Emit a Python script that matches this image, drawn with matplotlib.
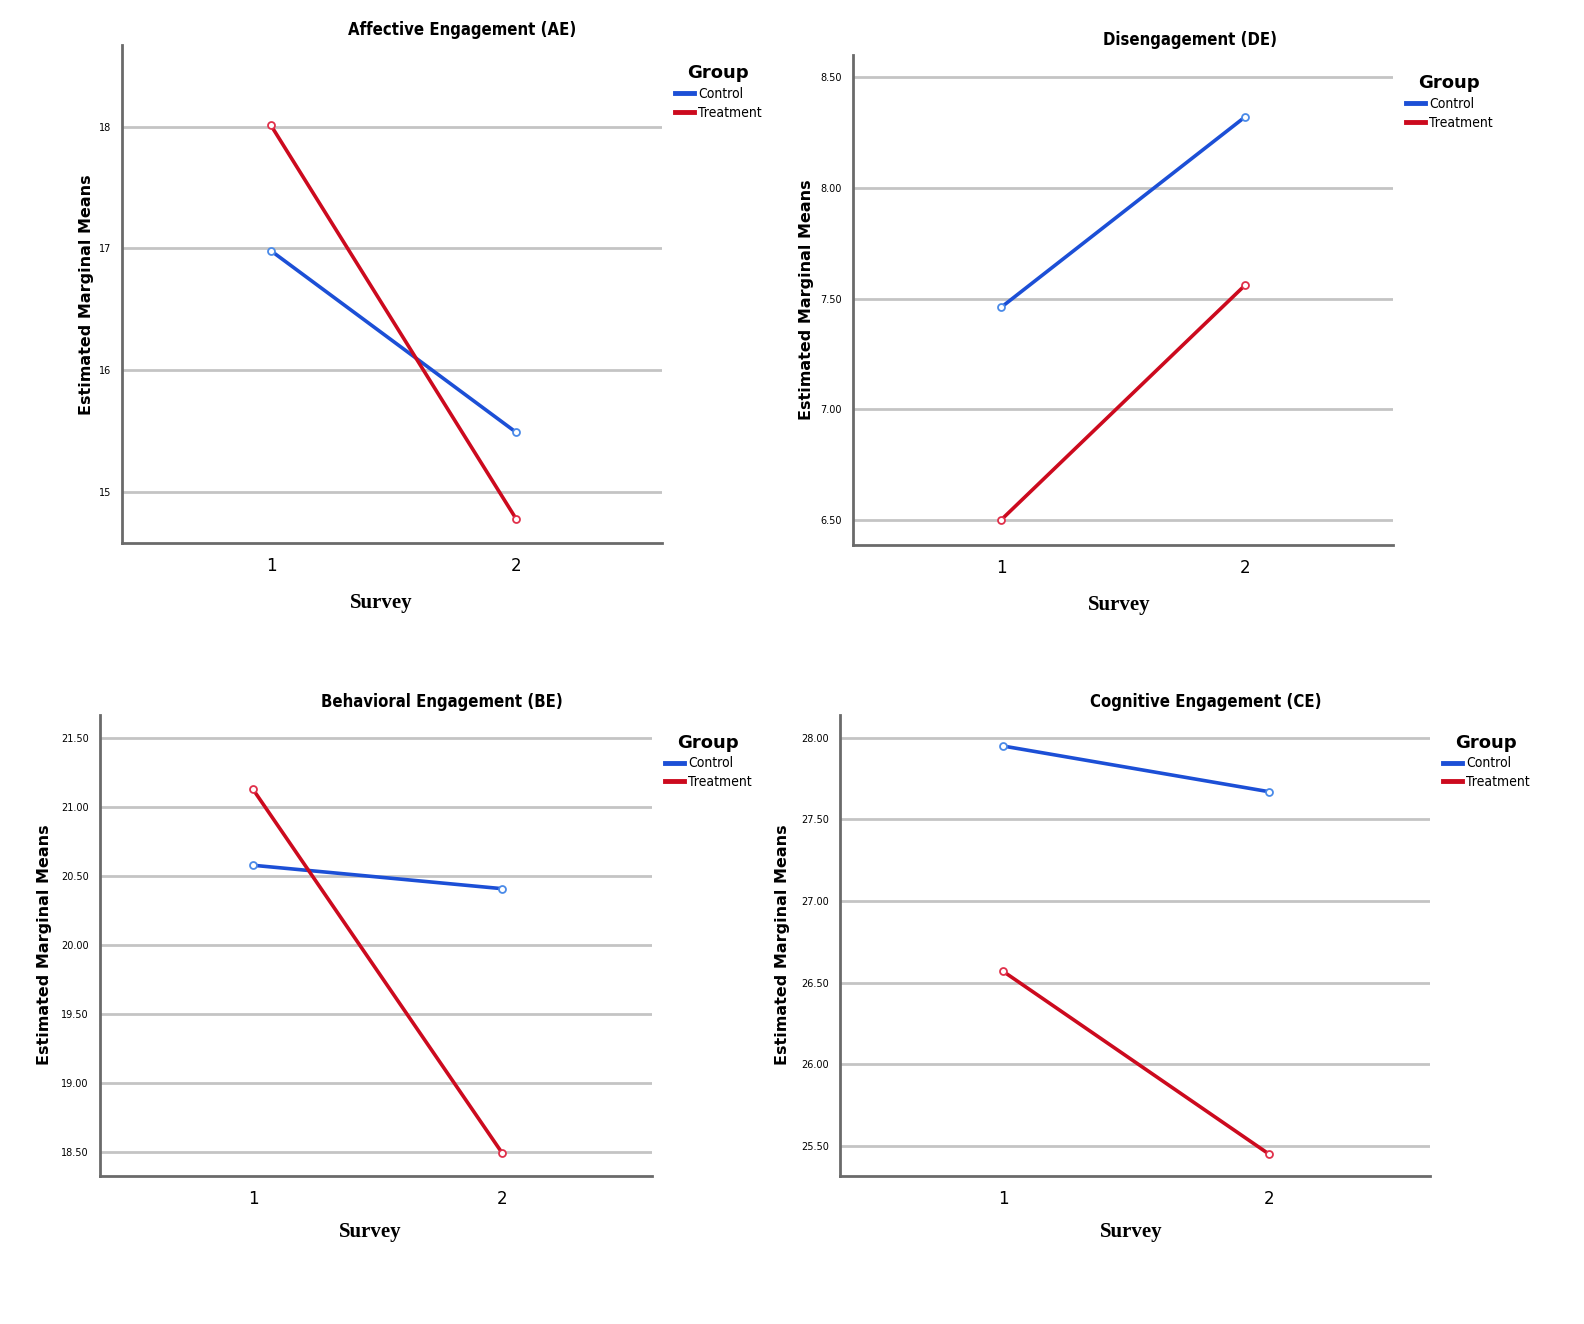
import numpy as np
import matplotlib
matplotlib.use("Agg")
import matplotlib.pyplot as plt
from matplotlib.ticker import FormatStrFormatter
from matplotlib.font_manager import FontProperties

W, H = 1584, 1324

surveys = [1, 2]

titles = ["Affective Engagement (AE)", "Disengagement (DE)",
          "Behavioral Engagement (BE)", "Cognitive Engagement (CE)"]

# estimated marginal means
ae_control = [16.98, 15.49]
ae_treatment = [18.01, 14.78]
de_control = [7.46, 8.32]
de_treatment = [6.50, 7.56]
be_control = [20.58, 20.41]
be_treatment = [21.13, 18.49]
ce_control = [27.95, 27.67]
ce_treatment = [26.57, 25.45]

ae_ticks = [15, 16, 17, 18]
de_ticks = [6.5, 7.0, 7.5, 8.0, 8.5]
be_ticks = [18.5, 19.0, 19.5, 20.0, 20.5, 21.0, 21.5]
ce_ticks = [25.5, 26.0, 26.5, 27.0, 27.5, 28.0]

BLUE = "#1c4fd6"
RED = "#cc0a1e"

# pixel boxes (left, right, top, bottom) and limits per panel
panels = [
    dict(box=(122, 662, 45, 543), ylim=(14.58, 18.67), xlim=(0.392, 2.596),
         c=ae_control, t=ae_treatment, ticks=ae_ticks, fmt="%d",
         title_xy=(462, 30), ylab_xy=(86, 295), xlab_xy=(381, 603), leg_xy=(662, 52)),
    dict(box=(853, 1393, 55, 545), ylim=(6.387, 8.60), xlim=(0.393, 2.607),
         c=de_control, t=de_treatment, ticks=de_ticks, fmt="%.2f",
         title_xy=(1190, 40), ylab_xy=(806, 300), xlab_xy=(1119, 605), leg_xy=(1393, 62)),
    dict(box=(100, 652, 715, 1176), ylim=(18.326, 21.67), xlim=(0.386, 2.60),
         c=be_control, t=be_treatment, ticks=be_ticks, fmt="%.2f",
         title_xy=(442, 702), ylab_xy=(45, 945), xlab_xy=(370, 1232), leg_xy=(652, 721)),
    dict(box=(840, 1430, 715, 1176), ylim=(25.316, 28.14), xlim=(0.387, 2.605),
         c=ce_control, t=ce_treatment, ticks=ce_ticks, fmt="%.2f",
         title_xy=(1206, 702), ylab_xy=(782, 945), xlab_xy=(1131, 1232), leg_xy=(1430, 721)),
]

narrow = FontProperties(family="DejaVu Sans", stretch="condensed", size=10)

fig = plt.figure(figsize=(W / 100, H / 100), dpi=100)

for p, title in zip(panels, titles):
    l, r, t, b = p["box"]
    ax = fig.add_axes([l / W, 1 - b / H, (r - l) / W, (b - t) / H])
    ax.plot(surveys, p["c"], "-o", color=BLUE, lw=2.6, ms=5,
            mfc="white", mec="#4a8ae8", mew=1.3, label="Control", zorder=3)
    ax.plot(surveys, p["t"], "-o", color=RED, lw=2.6, ms=5,
            mfc="white", mec="#e0304a", mew=1.3, label="Treatment", zorder=3)
    ax.set_xlim(*p["xlim"])
    ax.set_ylim(*p["ylim"])
    ax.set_xticks(surveys)
    ax.set_yticks(p["ticks"])
    ax.yaxis.set_major_formatter(FormatStrFormatter(p["fmt"]))
    ax.tick_params(axis="y", length=0, labelsize=7, pad=8)
    ax.tick_params(axis="x", length=0, labelsize=12, pad=10)
    ax.grid(axis="y", color="#c4c4c4", lw=2)
    ax.set_axisbelow(True)
    for s in ["top", "right"]:
        ax.spines[s].set_visible(False)
    for s in ["left", "bottom"]:
        ax.spines[s].set_color("#6a6a6a")
        ax.spines[s].set_linewidth(2)

    fig.text(p["title_xy"][0] / W, 1 - p["title_xy"][1] / H, title,
             ha="center", va="center", fontsize=12, fontweight="bold",
             family="DejaVu Sans", stretch="condensed")
    fig.text(p["ylab_xy"][0] / W, 1 - p["ylab_xy"][1] / H, "Estimated Marginal Means",
             ha="center", va="center", rotation=90, fontsize=11.5, fontweight="bold")
    fig.text(p["xlab_xy"][0] / W, 1 - p["xlab_xy"][1] / H, "Survey",
             ha="center", va="center", fontsize=15, fontweight="bold",
             family="Liberation Serif")

    lx, ly = p["leg_xy"]
    leg = ax.legend(loc="upper left", bbox_to_anchor=(lx / W, 1 - ly / H),
                    bbox_transform=fig.transFigure, title="Group", frameon=False,
                    handlelength=1.4, handletextpad=0.3, labelspacing=0.35,
                    prop=narrow)
    for h in leg.legend_handles:
        h.set_marker("")
        h.set_linewidth(3.5)
    leg.get_title().set_fontweight("bold")
    leg.get_title().set_fontsize(13)

fig.savefig("out.png", dpi=100)
